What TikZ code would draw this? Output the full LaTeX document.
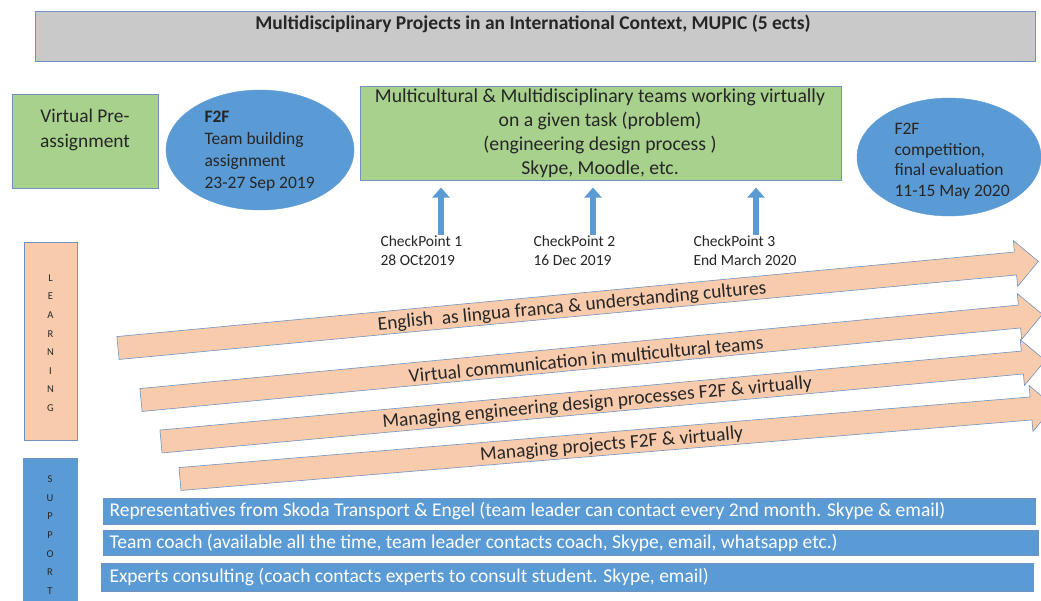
\documentclass[tikz,border=0pt]{standalone}
\usepackage{fontspec}
\setmainfont{Carlito}
\usetikzlibrary{arrows.meta,shapes.geometric,calc}
\definecolor{mblue}{HTML}{5B9BD5}
\definecolor{mgreen}{HTML}{A9D18E}
\definecolor{mpeach}{HTML}{F8CBAD}
\definecolor{mgray}{HTML}{C9C9C9}
\definecolor{medge}{HTML}{6F93BE}
\definecolor{mtext}{HTML}{262626}
\newcommand\myfs[2]{\fontsize{#1}{#2}\selectfont}
% #1 name, #2 tail x, #3 tail y, #4 angle, #5 shaft length, #6 text pos, #7 text
\newcommand\learnarrow[7]{%
  \begin{scope}[shift={(#2,#3)},rotate=#4]
    \draw[learn] (0,-11.5) -- (#5,-11.5) -- (#5,-23) -- ($(#5,0)+(23,0)$) -- (#5,23) -- (#5,11.5) -- (0,11.5) -- cycle;
    \node[transform shape,inner sep=0pt,font=\myfs{19.4}{22},text=mtext] (#1) at (#6,1.5) {#7};
  \end{scope}}
\tikzset{
  box/.style={draw=medge,line width=0.6pt,anchor=north west,inner sep=0pt},
  learn/.style={draw=medge,line width=0.6pt,fill=mpeach},
  bar/.style={box,fill=mblue,minimum height=26pt},
  bartext/.style={anchor=west,text=white,font=\myfs{19.5}{22}},
  cp/.style={anchor=north west,align=left,text=mtext,font=\myfs{15.5}{19.5}},
  uparrow/.style={draw=mblue,line width=6.5pt,-{Triangle[width=17pt,length=10pt]}},
}
\begin{document}
\begin{tikzpicture}[x=1pt,y=-1pt]
\useasboundingbox (0,0) rectangle (1041,600);
\clip (0,0) rectangle (1041,600);
\fill[white] (0,0) rectangle (1041,600);
% title
\node[box,fill=mgray,minimum width=1000pt,minimum height=50pt] (title) at (35,11) {};
\node[font=\bfseries\myfs{19.5}{22},text=mtext] (titletext) at (533,24) {Multidisciplinary Projects in an International Context, MUPIC (5 ects)};
% virtual pre-assignment
\node[box,fill=mgreen,minimum width=146pt,minimum height=94pt] (virt) at (12,94) {};
\node[align=center,font=\myfs{19.4}{25},text=mtext] (virttext) at (85,129.5) {Virtual Pre-\\assignment};
% left ellipse
\node[ellipse,fill=mblue,draw=mblue,minimum width=188pt,minimum height=120pt,inner sep=0pt] (f2f1) at (260,150) {};
\node[anchor=west,align=left,font=\myfs{17.5}{22},text=mtext] (f2f1text) at (201,151.5) {\textbf{F2F}\\Team building\\assignment\\23-27 Sep 2019};
% green task box
\node[box,fill=mgreen,minimum width=481pt,minimum height=94pt] (task) at (360,86) {};
\node[align=center,font=\myfs{19.7}{24},text=mtext] (tasktext) at (600,133) {Multicultural \& Multidisciplinary teams working virtually\\on a given task (problem)\\(engineering design process )\\Skype, Moodle, etc.};
% right ellipse
\node[ellipse,fill=mblue,draw=mblue,minimum width=184pt,minimum height=118pt,inner sep=0pt] (f2f2) at (949,157) {};
\node[anchor=west,align=left,font=\myfs{17.5}{20.5},text=mtext] (f2f2text) at (891,161) {F2F\\competition,\\final evaluation\\11-15 May 2020};
% checkpoints
\coordinate (a1) at (441,235);
\coordinate (a2) at (593,235);
\coordinate (a3) at (756,235);
\draw[uparrow,shorten >=7pt] (a1) -- (a1 |- task.south);
\draw[uparrow,shorten >=7pt] (a2) -- (a2 |- task.south);
\draw[uparrow,shorten >=7pt] (a3) -- (a3 |- task.south);
\node[cp] (cp1) at (377,232) {CheckPoint 1\\28 OCt2019};
\node[cp] (cp2) at (530,232) {CheckPoint 2\\16 Dec 2019};
\node[cp] (cp3) at (690,232) {CheckPoint 3\\End March 2020};
% learning side box
\node[box,fill=mpeach,minimum width=53pt,minimum height=198pt] (learnbox) at (24,242) {};
\node[align=center,font=\myfs{10.5}{18.6},text=mtext] (learntext) at (50.5,343) {L\\E\\A\\R\\N\\I\\N\\G};
% learning arrows
\learnarrow{la1}{118}{348}{5.38}{901.5}{456}{English\ \ as lingua franca \& understanding cultures}
\learnarrow{la2}{141}{400}{5.43}{882.5}{447}{Virtual communication in multicultural teams}
\learnarrow{la3}{161}{441.5}{5.24}{865}{438}{Managing engineering design processes F2F \& virtually}
\learnarrow{la4}{180}{479}{4.74}{854}{433}{Managing projects F2F \& virtually}
% support side box
\node[box,fill=mblue,minimum width=54pt,minimum height=160pt] (suppbox) at (23,458) {};
\node[align=center,font=\myfs{10.5}{18.7},text=mtext] (supptext) at (50,535) {S\\U\\P\\P\\O\\R\\T};
% support bars
\node[bar,minimum width=932pt] (s1) at (103,498) {};
\node[bartext] (s1t) at (106,511) {Representatives from Skoda Transport \& Engel (team leader can contact every 2nd month. Skype \& email)};
\node[bar,minimum width=935pt,minimum height=25pt] (s2) at (103,530) {};
\node[bartext] (s2t) at (106,542.5) {Team coach (available all the time, team leader contacts coach, Skype, email, whatsapp etc.)};
\node[bar,minimum width=932pt,minimum height=28pt] (s3) at (101,563) {};
\node[bartext] (s3t) at (106,577) {Experts consulting (coach contacts experts to consult student. Skype, email)};
\end{tikzpicture}
\end{document}
